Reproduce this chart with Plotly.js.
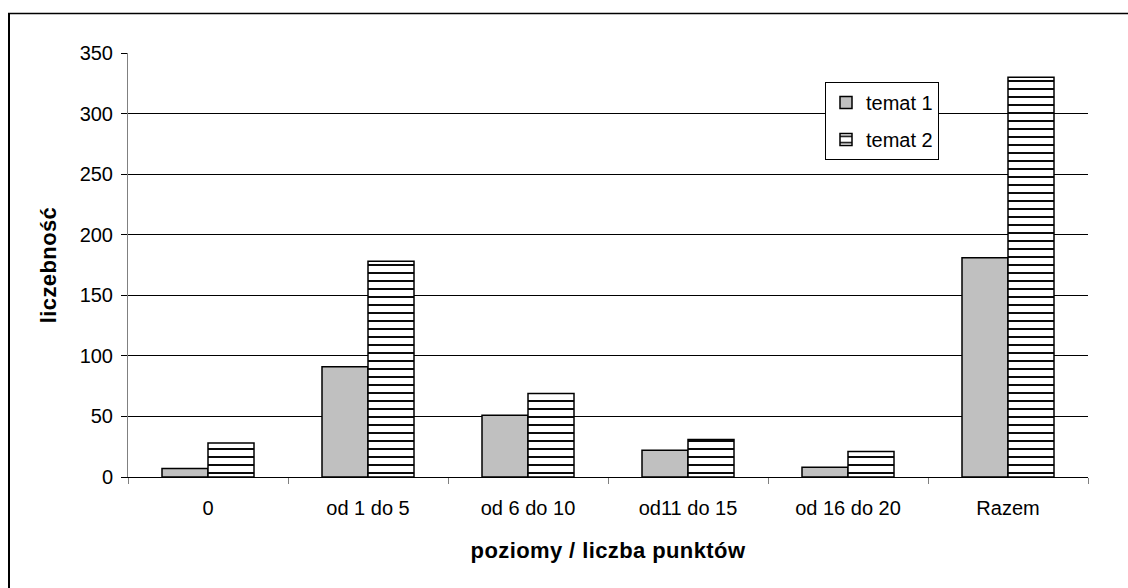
<!DOCTYPE html>
<html>
<head>
<meta charset="utf-8">
<script src="https://cdn.plot.ly/plotly-3.0.1.min.js"></script>
<style>
  html, body { margin: 0; padding: 0; background: #fff; }
  #chart { width: 1128px; height: 588px; }
  .g-xtitle text, .g-ytitle text { letter-spacing: 0.4px; }
</style>
</head>
<body>
<div id="chart"></div>
<script>
const categories = ['0', 'od 1 do 5', 'od 6 do 10', 'od11 do 15', 'od 16 do 20', 'Razem'];
const temat1 = [7, 91, 51, 22, 8, 181];
const temat2 = [28, 178, 69, 31, 21, 330];
const seriesNames = ['temat 1', 'temat 2'];
const yTicks = [0, 50, 100, 150, 200, 250, 300, 350];

const FONT = 'Liberation Sans, Arial, sans-serif';

const traces = [
  {
    type: 'bar', name: seriesNames[0], x: categories, y: temat1, legendgroup: 'a',
    marker: { color: '#c0c0c0', line: { color: '#000', width: 1.5 } }
  },
  {
    type: 'bar', name: seriesNames[1], x: categories, y: temat2, legendgroup: 'b',
    marker: {
      color: '#ffffff',
      line: { color: '#000', width: 1.5 },
      pattern: { shape: '-', fgcolor: '#000', bgcolor: '#ffffff', size: 8, solidity: 0.24, fillmode: 'replace' }
    }
  }
];

const L = 128, R = 40, T = 53, B = 111;
const W = 1128 - L - R, H = 588 - T - B;
const px2x = p => (p - L) / W;
const px2y = p => (588 - B - p) / H;

const layout = {
  width: 1128, height: 588,
  margin: { l: L, r: R, t: T, b: B, pad: 0 },
  paper_bgcolor: '#fff', plot_bgcolor: '#fff',
  font: { family: FONT, size: 20, color: '#000' },
  barmode: 'group', bargap: 0.425, bargroupgap: 0,
  showlegend: true,
  legend: {
    x: px2x(825), y: px2y(82), xanchor: 'left', yanchor: 'top',
    bgcolor: '#fff', bordercolor: '#000', borderwidth: 1,
    font: { family: FONT, size: 20, color: '#000' },
    tracegroupgap: 8, itemwidth: 30
  },
  xaxis: {
    type: 'category', tickson: 'boundaries', ticks: 'outside', ticklen: 6, tickcolor: '#808080',
    showline: true, linecolor: '#000', linewidth: 1, showgrid: false,
    ticklabelstandoff: 13,
    tickfont: { family: FONT, size: 20, color: '#000' },
    title: { text: '<b>poziomy / liczba punktów</b>', font: { family: FONT, size: 22, color: '#000' }, standoff: 24 },
    automargin: false
  },
  yaxis: {
    range: [0, 350], tickvals: yTicks, ticktext: yTicks.map(String),
    ticks: 'outside', ticklen: 6, tickcolor: '#000',
    showline: true, linecolor: '#808080', linewidth: 1,
    showgrid: true, gridcolor: '#000', gridwidth: 1, zeroline: false,
    ticklabelstandoff: 4,
    tickfont: { family: FONT, size: 20, color: '#000' },
    title: { text: '<b>liczebność</b>', font: { family: FONT, size: 22, color: '#000' }, standoff: 16 },
    automargin: false
  },
  shapes: [
    { type: 'line', xref: 'paper', yref: 'paper', x0: px2x(9), x1: px2x(9), y0: px2y(13), y1: px2y(620), line: { color: '#000', width: 2 } },
    { type: 'line', xref: 'paper', yref: 'paper', x0: px2x(8), x1: px2x(1160), y0: px2y(13.5), y1: px2y(13.5), line: { color: '#000', width: 1.5 } }
  ]
};

Plotly.newPlot('chart', traces, layout, { staticPlot: true, displayModeBar: false });
</script>
</body>
</html>
